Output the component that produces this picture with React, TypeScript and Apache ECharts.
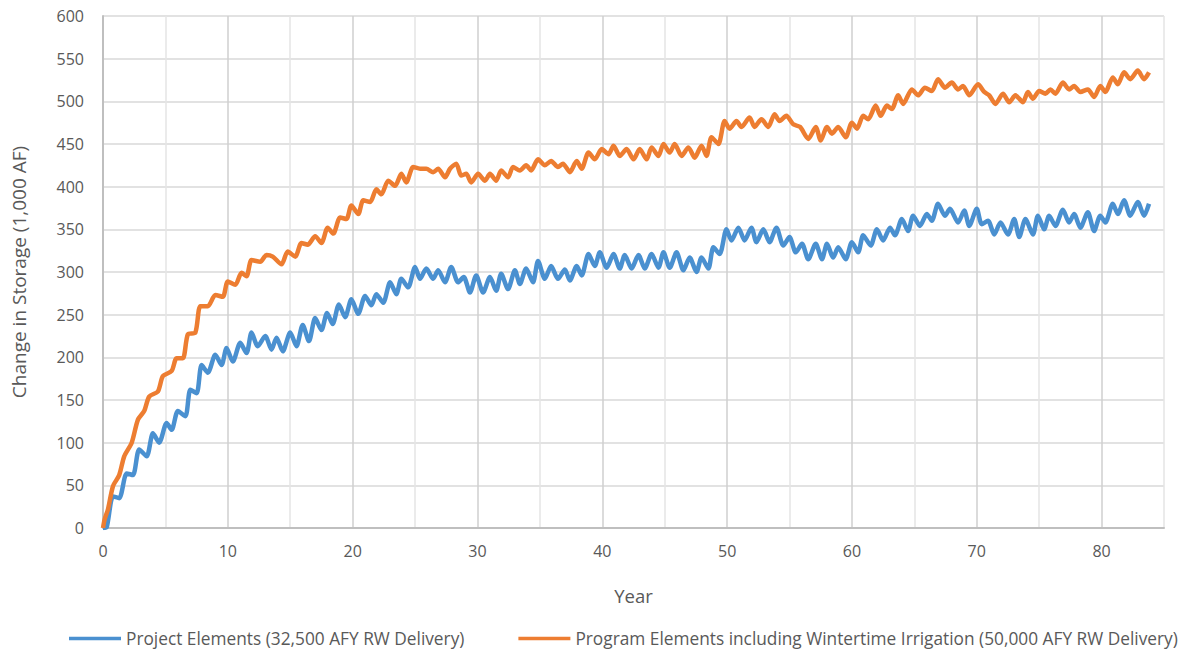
import React, { useEffect, useRef } from "react";
import * as echarts from "echarts";

const blueYears = [0, 0.3, 0.8, 1.3, 1.9, 2.4, 2.9, 3.5, 4.0, 4.5, 5.1, 5.5, 6.0, 6.6, 7.0, 7.5, 7.9, 8.4, 9.0, 9.5, 9.9, 10.4, 11.0, 11.5, 11.9, 12.4, 13.0, 13.5, 13.9, 14.4, 15.0, 15.5, 16.0, 16.5, 17.0, 17.5, 17.95, 18.4, 18.9, 19.4, 19.9, 20.45, 21.0, 21.5, 21.9, 22.45, 23.0, 23.5, 23.9, 24.45, 25.0, 25.4, 25.9, 26.45, 26.85, 27.4, 27.9, 28.45, 28.9, 29.4, 29.9, 30.45, 31.0, 31.5, 31.9, 32.45, 33.0, 33.4, 33.9, 34.45, 34.85, 35.4, 35.9, 36.45, 37.0, 37.4, 37.95, 38.35, 38.9, 39.4, 39.8, 40.35, 40.9, 41.4, 41.8, 42.35, 42.9, 43.4, 43.95, 44.5, 44.9, 45.4, 45.95, 46.5, 47.0, 47.55, 47.95, 48.5, 48.9, 49.4, 49.95, 50.35, 50.9, 51.4, 51.95, 52.35, 52.9, 53.4, 53.95, 54.5, 55.0, 55.5, 56.0, 56.5, 57.1, 57.6, 58.0, 58.5, 58.9, 59.5, 60.0, 60.5, 60.9, 61.5, 62.0, 62.5, 63.05, 63.45, 64.0, 64.5, 64.9, 65.45, 66.0, 66.4, 66.9, 67.45, 67.85, 68.5, 69.0, 69.4, 70.0, 70.4, 70.9, 71.4, 71.9, 72.5, 73.0, 73.4, 73.9, 74.5, 74.9, 75.4, 75.8, 76.3, 76.9, 77.4, 77.8, 78.3, 78.9, 79.4, 79.9, 80.3, 80.9, 81.3, 81.8, 82.3, 82.9, 83.4, 83.8];
const blueValues = [0, 1, 37, 35, 64, 62, 92, 84, 111, 100, 123, 115, 137, 131, 162, 158, 191, 182, 203, 191, 211, 195, 217, 205, 229, 213, 225, 209, 223, 207, 229, 213, 238, 219, 246, 232, 252, 239, 262, 247, 268, 251, 272, 261, 274, 264, 288, 274, 292, 282, 306, 292, 304, 292, 302, 288, 306, 288, 294, 276, 296, 276, 294, 278, 298, 280, 302, 286, 304, 288, 313, 292, 307, 292, 303, 290, 307, 296, 321, 307, 323, 305, 321, 304, 320, 304, 320, 304, 321, 305, 323, 305, 323, 302, 317, 300, 317, 304, 329, 321, 350, 337, 352, 337, 352, 335, 350, 335, 352, 331, 341, 323, 333, 315, 333, 315, 333, 317, 329, 315, 335, 323, 343, 331, 350, 337, 352, 343, 362, 348, 366, 354, 368, 360, 380, 366, 374, 358, 372, 354, 374, 356, 360, 344, 358, 344, 362, 341, 362, 344, 366, 350, 366, 354, 373, 358, 368, 352, 370, 348, 366, 358, 380, 368, 384, 366, 382, 366, 380];

const orangeYears = [0, 0.13, 0.4, 0.8, 1.3, 1.7, 2.3, 2.8, 3.3, 3.7, 4.4, 4.8, 5.5, 5.9, 6.4, 6.8, 7.4, 7.8, 8.4, 9.0, 9.6, 10.0, 10.6, 11.1, 11.5, 11.9, 12.6, 13.1, 13.6, 14.3, 14.8, 15.4, 15.9, 16.4, 17.0, 17.5, 18.0, 18.45, 19.0, 19.5, 19.9, 20.45, 20.85, 21.4, 21.9, 22.3, 22.85, 23.4, 23.9, 24.3, 24.85, 25.4, 25.9, 26.45, 26.85, 27.4, 27.8, 28.3, 28.7, 29.1, 29.5, 30.05, 30.6, 31.0, 31.5, 31.9, 32.45, 32.85, 33.4, 33.9, 34.3, 34.85, 35.4, 35.9, 36.45, 36.85, 37.4, 37.95, 38.35, 38.9, 39.4, 39.95, 40.5, 40.9, 41.4, 41.95, 42.5, 43.0, 43.55, 43.95, 44.5, 44.9, 45.4, 45.8, 46.35, 46.9, 47.4, 47.95, 48.35, 48.75, 49.3, 49.8, 50.2, 50.75, 51.15, 51.8, 52.2, 52.75, 53.3, 53.8, 54.2, 54.75, 55.3, 55.85, 56.5, 57.1, 57.5, 58.0, 58.4, 58.9, 59.5, 60.0, 60.4, 60.9, 61.3, 61.9, 62.3, 62.8, 63.2, 63.7, 64.1, 64.8, 65.3, 65.85, 66.4, 66.9, 67.45, 68.0, 68.5, 68.9, 69.4, 70.1, 70.6, 71.0, 71.5, 72.1, 72.6, 73.1, 73.7, 74.1, 74.5, 75.0, 75.5, 75.9, 76.3, 76.9, 77.4, 77.8, 78.3, 78.9, 79.4, 79.9, 80.3, 80.9, 81.3, 81.8, 82.3, 82.9, 83.4, 83.8];
const orangeValues = [0, 10, 22, 49, 62, 84, 100, 127, 137, 154, 160, 178, 184, 199, 199, 227, 229, 260, 260, 273, 271, 289, 285, 299, 295, 314, 312, 320, 318, 309, 324, 318, 334, 332, 342, 334, 352, 345, 364, 362, 378, 368, 384, 382, 397, 391, 407, 401, 415, 405, 423, 421, 421, 417, 421, 411, 421, 427, 413, 415, 405, 415, 407, 415, 407, 419, 411, 423, 419, 425, 419, 432, 425, 430, 423, 427, 417, 430, 421, 440, 432, 444, 438, 448, 436, 444, 432, 444, 432, 446, 436, 450, 440, 450, 436, 446, 434, 448, 436, 458, 450, 477, 468, 477, 470, 481, 470, 479, 470, 485, 477, 483, 473, 470, 456, 470, 454, 470, 462, 470, 458, 475, 468, 483, 479, 495, 483, 495, 491, 507, 497, 514, 507, 516, 512, 526, 516, 522, 514, 518, 507, 520, 511, 507, 497, 509, 499, 507, 499, 511, 503, 512, 509, 514, 509, 522, 514, 518, 511, 514, 505, 518, 511, 528, 520, 534, 526, 536, 526, 534];

const seriesNames = [
  "Project Elements (32,500 AFY RW Delivery)",
  "Program Elements including Wintertime Irrigation (50,000 AFY RW Delivery)",
];
const xTitle = "Year";
const yTitle = "Change in Storage (1,000 AF)";

const FONT = "'Open Sans', sans-serif";
const TEXT = "#595959";

export default function App() {
  const ref = useRef<HTMLDivElement>(null);
  useEffect(() => {
    if (!ref.current) return;
    const chart = echarts.init(ref.current, null, { renderer: "svg" });
    const blue = blueYears.map((x, i) => [x, blueValues[i]]);
    const orange = orangeYears.map((x, i) => [x, orangeValues[i]]);
    chart.setOption({
      animation: false,
      backgroundColor: "#ffffff",
      textStyle: { fontFamily: FONT },
      grid: { left: 103, right: 23, top: 16, bottom: 124, outerBoundsMode: "none", containLabel: false },
      legend: {
        left: 64,
        top: 625,
        icon: "rect",
        itemWidth: 52,
        itemHeight: 3.5,
        itemGap: 54,
        textStyle: { color: TEXT, fontSize: 17.3, fontFamily: FONT },
        data: seriesNames,
      },
      xAxis: {
        type: "value",
        min: 0,
        max: 85,
        interval: 5,
        name: xTitle,
        nameLocation: "middle",
        nameGap: 58,
        nameTextStyle: { color: TEXT, fontSize: 18.5, fontFamily: FONT },
        axisLine: { show: true, lineStyle: { color: "#BFBFBF", width: 2 } },
        axisTick: { show: false },
        axisLabel: {
          color: TEXT,
          fontSize: 16,
          fontFamily: FONT,
          margin: 15,
          formatter: (v: number) => (v % 10 === 0 && v <= 80 ? String(v) : ""),
        },
        splitLine: { show: true, lineStyle: { color: ["#CFCFCF", "#E4E4E4"], width: 1.5 } },
      },
      yAxis: {
        type: "value",
        min: 0,
        max: 600,
        interval: 50,
        name: yTitle,
        nameLocation: "middle",
        nameGap: 75,
        nameTextStyle: { color: TEXT, fontSize: 19, fontFamily: FONT },
        axisLine: { show: true, lineStyle: { color: "#BFBFBF", width: 2 } },
        axisTick: { show: false },
        axisLabel: { color: TEXT, fontSize: 16, fontFamily: FONT, margin: 19 },
        splitLine: { show: true, lineStyle: { color: "#D9D9D9", width: 1.5 } },
      },
      series: [
        {
          name: seriesNames[0],
          type: "line",
          data: blue,
          showSymbol: false,
          smooth: 0.25,
          lineStyle: { color: "#4A90D0", width: 4.5 },
          itemStyle: { color: "#4A90D0" },
          z: 3,
        },
        {
          name: seriesNames[1],
          type: "line",
          data: orange,
          showSymbol: false,
          smooth: 0.25,
          lineStyle: { color: "#ED7D31", width: 4.5 },
          itemStyle: { color: "#ED7D31" },
          z: 4,
        },
      ],
    });
    return () => chart.dispose();
  }, []);
  return (
    <div
      ref={ref}
      style={{ position: "absolute", left: 0, top: 0, width: 1187, height: 652, background: "#fff" }}
    />
  );
}
